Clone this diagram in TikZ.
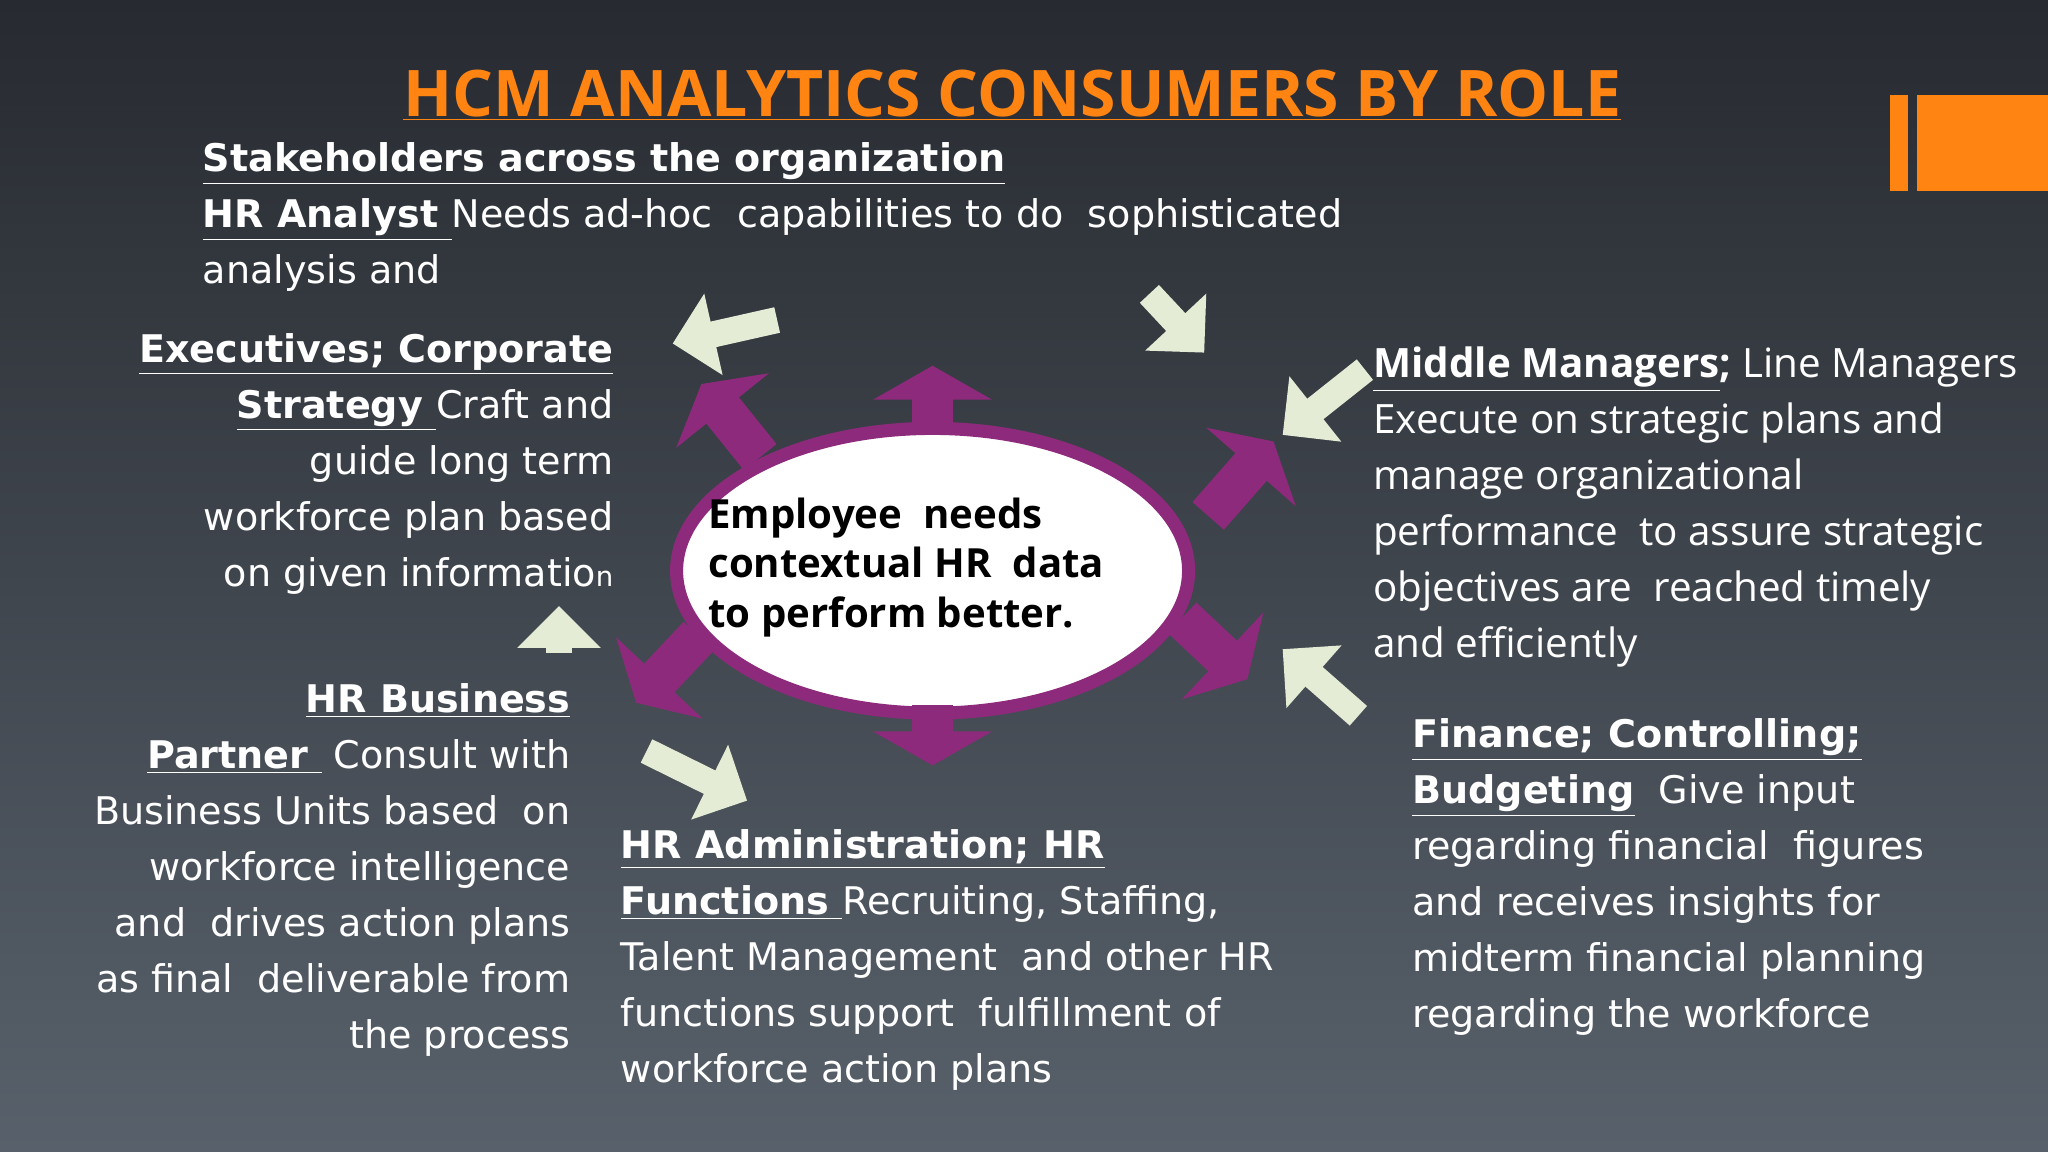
\documentclass[tikz,border=0pt]{standalone}
\usepackage{fontspec}
\setmainfont{Open Sans}
\newfontfamily\dvs{DejaVu Sans}
\usetikzlibrary{arrows.meta,shapes.geometric}
\definecolor{bgtop}{HTML}{272A30}
\definecolor{bgbot}{HTML}{58616B}
\definecolor{org}{HTML}{FF8412}
\definecolor{purp}{HTML}{8E2A7C}
\definecolor{lgreen}{HTML}{E5ECD6}
\newcommand\ul[1]{\underline{#1}}
\begin{document}
\begin{tikzpicture}[x=0.02cm,y=-0.02cm,
  body/.style={inner sep=0pt,text=white,font=\dvs\fontsize{16.6}{24.4}\selectfont},
  parr/.style={purp,line width=32*0.02cm,-{Triangle[width=90*0.02cm,length=26*0.02cm]}},
  garr/.style={lgreen,line width=20*0.02cm,-{Triangle[width=62*0.02cm,length=32*0.02cm]}}]
\shade[top color=bgtop,bottom color=bgbot] (0,0) rectangle (1568,882);
\useasboundingbox (0,0) rectangle (1568,882);
\fill[org] (1447,73) rectangle (1461,146);
\fill[org] (1468,73) rectangle (1568,146);
\node[inner sep=0pt,text=org,font=\fontsize{28}{34}\selectfont\bfseries] (title) at (775,73) {\ul{HCM ANALYTICS CONSUMERS BY ROLE}};
% ellipse
\node[draw=purp,line width=10*0.02cm,fill=white,ellipse,minimum width=392*0.02cm,minimum height=218*0.02cm] (core) at (714,437) {};
\node[inner sep=0pt,anchor=north west,align=left,font=\fontsize{17.5}{21.5}\selectfont\bfseries] (coretxt) at (542,381) {Employee\ \ needs\\contextual HR\ \ data\\to perform better.};
% purple arrows
\coordinate (p1s) at (714,332); \coordinate (p1e) at (714,280);
\coordinate (p2s) at (582,350); \coordinate (p2e) at (537,294);
\coordinate (p3s) at (925,395); \coordinate (p3e) at (975,338);
\coordinate (p4s) at (535,487); \coordinate (p4e) at (487,538);
\coordinate (p5s) at (714,540); \coordinate (p5e) at (714,586);
\coordinate (p6s) at (905,473); \coordinate (p6e) at (955,520);
\foreach \i in {1,...,6} \draw[parr] (p\i s) -- (p\i e);
% light arrows
\coordinate (g1s) at (595,245); \coordinate (g1e) at (515,263);
\coordinate (g2s) at (880,225); \coordinate (g2e) at (922,270);
\coordinate (g3s) at (1045,283); \coordinate (g3e) at (982,333);
\coordinate (g4s) at (1040,548); \coordinate (g4e) at (982,497);
\coordinate (g5s) at (495,575); \coordinate (g5e) at (572,613);
\coordinate (g6s) at (428,500); \coordinate (g6e) at (428,464);
\foreach \i in {1,...,6} \draw[garr] (g\i s) -- (g\i e);
% texts
\node[body,anchor=north west,align=left] (stake) at (155,109) {\textbf{\ul{Stakeholders across the organization}}\\\textbf{\ul{HR Analyst\ }}Needs ad-hoc\ \ capabilities to do\ \ sophisticated\\analysis and};
\node[body,anchor=north east,align=right] (exec) at (470,255) {\textbf{\ul{Executives; Corporate}}\\\textbf{\ul{Strategy\ }}Craft and\\guide long term\\workforce plan based\\on given informatio{\fontsize{12}{12}\selectfont n}};
\node[body,anchor=north east,align=right] (hrbp) at (437,523) {\textbf{\ul{HR Business}}\\\textbf{\ul{Partner\ }} Consult with\\Business Units based\ \ on\\workforce intelligence\\and\ \ drives action plans\\as final\ \ deliverable from\\the process};
\node[body,anchor=north west,align=left] (hradm) at (475,635) {\textbf{\ul{HR Administration; HR}}\\\textbf{\ul{Functions\ }}Recruiting, Staffing,\\Talent Management\ \ and other HR\\functions support\ \ fulfillment of\\workforce action plans};
\node[inner sep=0pt,text=white,anchor=north west,align=left,font=\fontsize{17.6}{24.4}\selectfont] (mid) at (1051,265) {\textbf{\ul{Middle Managers}; }Line Managers\\Execute on strategic plans and\\manage organizational\\performance\ \ to assure strategic\\objectives are\ \ reached timely\\and efficiently};
\node[body,anchor=north west,align=left] (fin) at (1081,550) {\textbf{\ul{Finance; Controlling;}}\\\textbf{\ul{Budgeting}}\ \ Give input\\regarding financial\ \ figures\\and receives insights for\\midterm financial planning\\regarding the workforce};
\end{tikzpicture}
\end{document}
